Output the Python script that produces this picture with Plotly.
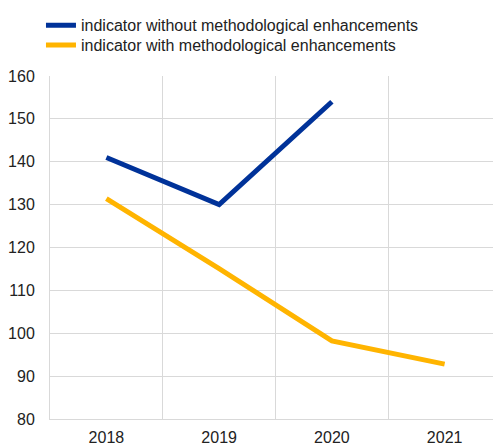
import plotly.graph_objects as go

years = ["2018", "2019", "2020", "2021"]
without_enh = [141, 130, 154, None]
with_enh = [131.4, 115.1, 98.2, 92.8]
series_names = ["indicator without methodological enhancements",
                "indicator with methodological enhancements"]
y_ticks = [80, 90, 100, 110, 120, 130, 140, 150, 160]

fig = go.Figure()
fig.add_trace(go.Scatter(x=years, y=without_enh, mode="lines", name=series_names[0],
                         line=dict(color="#003299", width=5), legend="legend",
                         showlegend=True))
fig.add_trace(go.Scatter(x=years, y=with_enh, mode="lines", name=series_names[1],
                         line=dict(color="#FFB400", width=5), legend="legend2",
                         showlegend=True))

leg_common = dict(xanchor="left", yanchor="middle", orientation="v",
                  font=dict(size=16, color="#222222"), itemwidth=30,
                  bgcolor="rgba(0,0,0,0)", visible=True)

# page body has an 8px default margin, so the figure is offset by 8px
fig.update_layout(
    width=493, height=438,
    margin=dict(l=42, r=0, t=66, b=27),
    showlegend=True,
    paper_bgcolor="white", plot_bgcolor="white",
    font=dict(family="Liberation Sans, Arial, sans-serif", size=16, color="#222222"),
    legend=dict(x=-0.02, y=1.148, **leg_common),
    legend2=dict(x=-0.02, y=1.090, **leg_common),
    xaxis=dict(type="category", tickson="boundaries", showgrid=True,
               range=[-0.5, 3.5], automargin=False, ticklabelstandoff=4,
               gridcolor="#d9d9d9", gridwidth=1, ticks="",
               showline=True, linecolor="#d9d9d9", linewidth=1,
               zeroline=False),
    yaxis=dict(range=[80, 160], tickvals=y_ticks, showgrid=True, automargin=False,
               gridcolor="#d9d9d9", gridwidth=1, ticks="",
               showline=True, linecolor="#d9d9d9", linewidth=1,
               zeroline=False, ticklabelstandoff=11),
)
fig.write_html("out.html")
